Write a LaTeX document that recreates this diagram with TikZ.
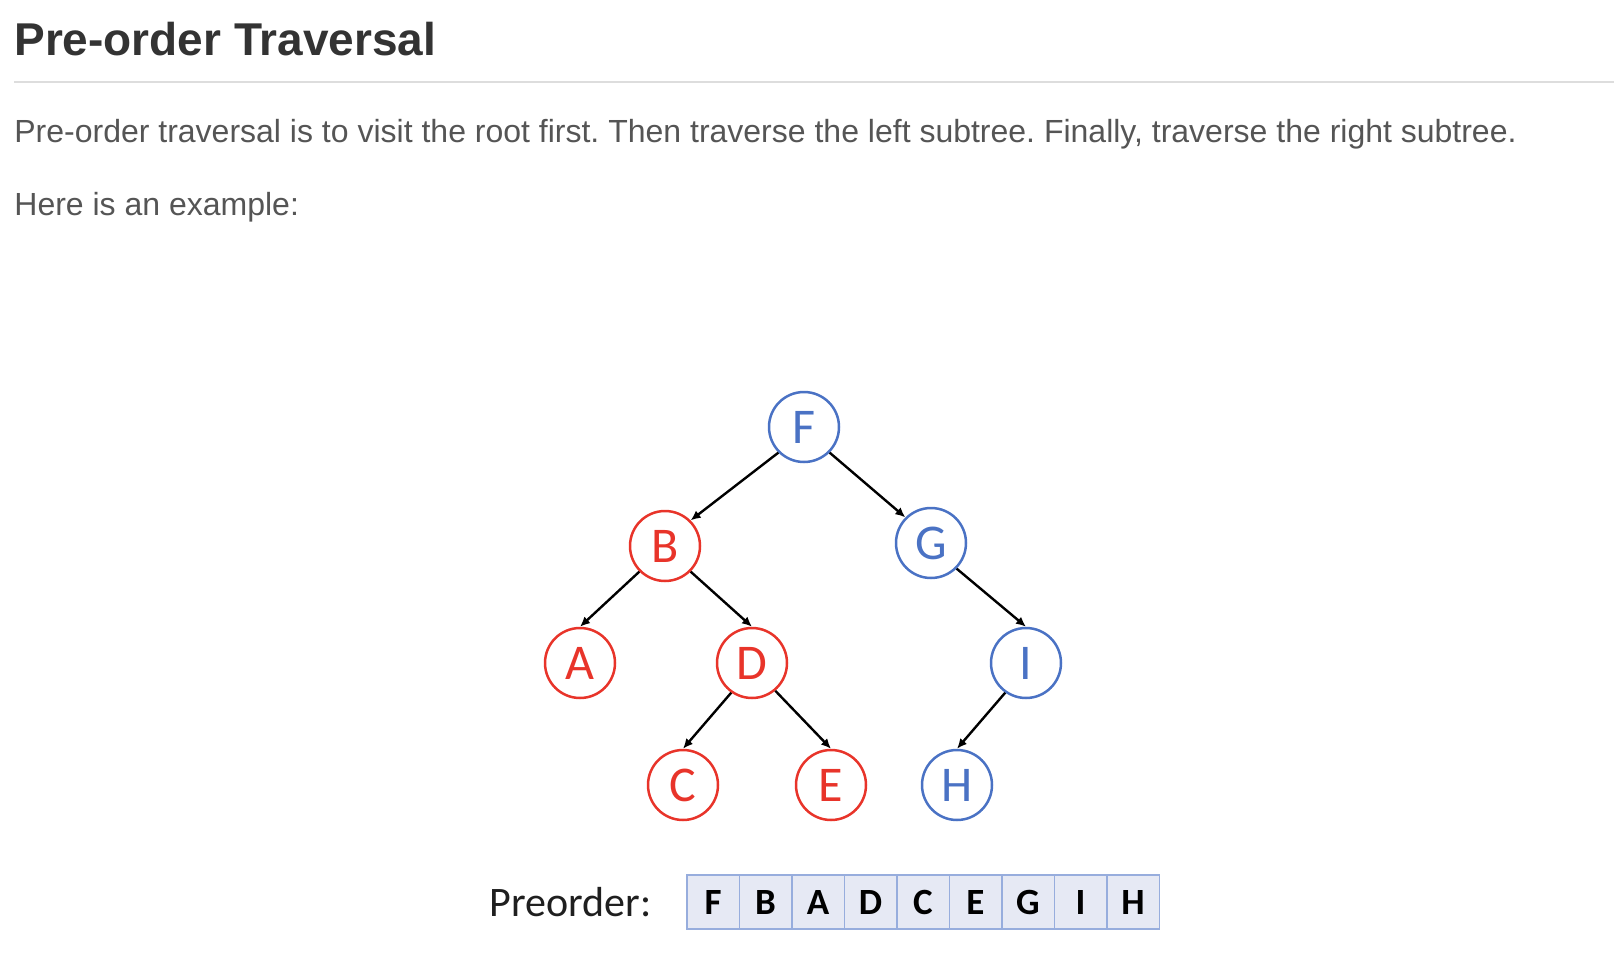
\documentclass[tikz,border=0pt]{standalone}
\usepackage{fontspec}
\setmainfont{Liberation Sans}
\newfontfamily\treefont{Carlito}
\usetikzlibrary{arrows.meta}
\frenchspacing

\definecolor{titlegray}{HTML}{333333}
\definecolor{textgray}{HTML}{555555}
\definecolor{rulegray}{HTML}{DDDDDD}
\definecolor{nodered}{RGB}{232,52,42}
\definecolor{nodeblue}{RGB}{74,114,196}
\definecolor{cellfill}{HTML}{E6E9F4}
\definecolor{celledge}{HTML}{97ADDD}

\begin{document}
\begin{tikzpicture}[x=0.5pt,y=-0.5pt,
  vred/.style={circle,draw=nodered,text=nodered,line width=1.25pt,
    minimum size=35pt,inner sep=0pt,font=\treefont\fontsize{25}{27}\selectfont},
  vblue/.style={vred,draw=nodeblue,text=nodeblue},
  arr/.style={line width=1.2pt,-{Latex[length=5pt,width=4.5pt]}},
  cell/.style={draw=celledge,fill=cellfill,line width=0.75pt,
    minimum width=26.25pt,minimum height=27pt,inner sep=0pt,
    font=\treefont\bfseries\fontsize{18.5}{20}\selectfont}]

\useasboundingbox (0,0) rectangle (1624,980);

\node[anchor=base west,inner sep=0pt,text=titlegray,
  font=\bfseries\fontsize{23}{27}\selectfont] (title) at (14,55) {Pre-order Traversal};

\draw[rulegray,line width=1pt] (14,82)--(1614,82);

\node[anchor=base west,inner sep=0pt,text=textgray,font=\fontsize{16}{19}\selectfont]
  (intro) at (14,142) {Pre-order traversal is to visit the root first. Then traverse the left subtree. Finally, traverse the right subtree.};
\node[anchor=base west,inner sep=0pt,text=textgray,font=\fontsize{16}{19}\selectfont]
  (example) at (14,215) {Here is an example:};

\node[vblue] (F) at (804,427) {F};
\node[vred] (B) at (665,546) {B};
\node[vblue] (G) at (931,543) {G};
\node[vred] (A) at (580,663) {A};
\node[vred] (D) at (752,663) {D};
\node[vblue] (I) at (1026,663) {I};
\node[vred] (C) at (683,785) {C};
\node[vred] (E) at (831,785) {E};
\node[vblue] (H) at (957,785) {H};

\draw[arr] (F.-135)--(B.45);
\draw[arr] (F.-45)--(G.135);
\draw[arr] (B.-135)--(A.90);
\draw[arr] (B.-45)--(D.90);
\draw[arr] (G.-45)--(I.90);
\draw[arr] (D.-125)--(C.90);
\draw[arr] (D.-50)--(E.90);
\draw[arr] (I.-125)--(H.90);

\node[anchor=base west,inner sep=0pt,text=black!88,font=\treefont\fontsize{21}{24}\selectfont]
  (label) at (489,916) {Preorder:};

\foreach \c [count=\i] in {F,B,A,D,C,E,G,I,H}
  \node[cell] (p\i) at ({713+52.5*(\i-1)},902) {\c};

\end{tikzpicture}
\end{document}
